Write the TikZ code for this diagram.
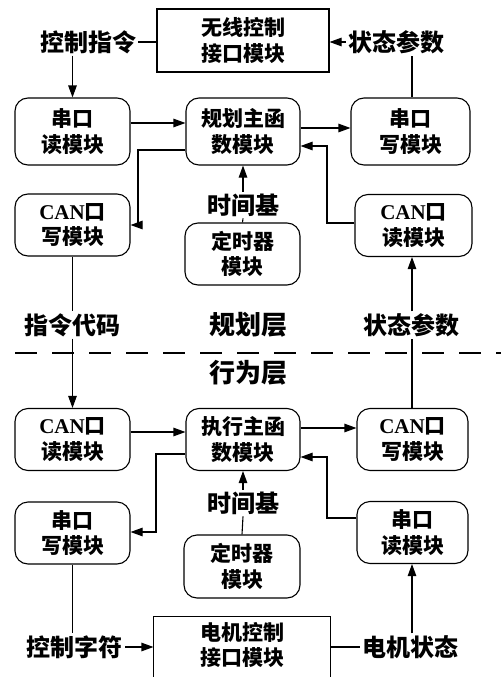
\documentclass[tikz,border=0pt]{standalone}
\usepackage{fontspec}
\setmainfont{Liberation Serif}
\newfontfamily\cjk{Noto Sans CJK SC}
\usetikzlibrary{arrows.meta}
\newcommand\boxfont{\cjk\bfseries\fontsize{21}{25.5}\selectfont}
\newcommand\lblfont{\cjk\bfseries\fontsize{24}{26}\selectfont}
\newcommand\layfont{\cjk\bfseries\fontsize{26}{28}\selectfont}
\newcommand\can{\textrm{\bfseries CAN}}
\begin{document}
\begin{tikzpicture}[x=1pt,y=-1pt, line width=1.1pt,
  >={Triangle[length=12pt,width=8.5pt]},
  rbox/.style={draw, rounded corners=13pt, minimum width=115pt, minimum height=62pt, inner sep=0pt, align=center, font=\boxfont},
  sbox/.style={draw, inner sep=0pt, align=center, font=\boxfont},
  lbl/.style={inner sep=1.5pt, font=\lblfont},
  lay/.style={inner sep=2pt, font=\layfont},
  sepline/.style={line width=2.2pt, dash pattern=on 22pt off 15pt}]
\useasboundingbox (0,0) rectangle (501,677);
\clip (0,0) rectangle (501,677);
\fill[white] (0,0) rectangle (501,677);
% top
\node[sbox, minimum width=172pt, minimum height=63pt] (wx) at (243,40.5) {无线控制\\接口模块};
\node[lbl] (ctl) at (88,42) {控制指令};
\node[lbl] (st1) at (396,42) {状态参数};
\node[rbox, minimum height=67pt] (a1) at (72.5,131.5) {串口\\读模块};
\node[rbox, minimum height=67pt, minimum width=114pt] (b1) at (243,131.5) {规划主函\\数模块};
\node[rbox, minimum height=67pt, minimum width=119pt] (c1) at (410.5,131.5) {串口\\写模块};
\node[rbox] (a2) at (72.5,225) {\can 口\\写模块};
\node[rbox, minimum width=117pt] (c2) at (413.5,225.5) {\can 口\\读模块};
\node[lbl] (tb1) at (243,205) {时间基};
\node[rbox] (d2) at (242.5,254) {定时器\\模块};
\node[lbl] (cmd) at (72.5,325) {指令代码};
\node[lay] (gh) at (248,325) {规划层};
\node[lbl] (st2) at (411,325) {状态参数};
\draw[sepline] (15,353) -- (501,353);
\node[lay] (xw) at (248,373) {行为层};
% bottom
\node[rbox] (a3) at (72.5,439.5) {\can 口\\读模块};
\node[rbox, minimum width=114pt] (b3) at (243,439.5) {执行主函\\数模块};
\node[rbox, minimum width=111pt] (c3) at (412.5,439.5) {\can 口\\写模块};
\node[lbl] (tb3) at (243,503) {时间基};
\node[rbox] (a4) at (72.5,533) {串口\\写模块};
\node[rbox, minimum width=111pt] (c4) at (412.5,532.5) {串口\\读模块};
\node[rbox, minimum width=116pt, minimum height=63pt] (d4) at (242,566.5) {定时器\\模块};
\node[inner sep=0pt, align=center, font=\boxfont, minimum width=176pt, minimum height=56pt] (mc) at (242,645) {电机控制\\接口模块};
\draw ([yshift=-20pt]mc.south west) -- (mc.north west) -- (mc.north east) -- ([yshift=-20pt]mc.south east);
\node[lbl] (kz) at (75,647) {控制字符};
\node[lbl] (dj) at (410,647) {电机状态};
% connectors top
\draw (ctl.east) -- (ctl.east -| wx.west);
\draw[->] (st1.west) -- (st1.west -| wx.east);
\draw[->] (a1.north |- ctl.south) -- (a1.north);
\draw (c1.north -| 412,0) -- (st1.south -| 412,0);
\draw[->] (a1.east |- 0,123) -- (b1.west |- 0,123);
\draw[->] (b1.east |- 0,128) -- (c1.west |- 0,128);
\draw[->] (b1.west |- 0,150) -- (138,150) -- (138,225) -- (a2.east |- 0,225);
\draw[->] (c2.west |- 0,223) -- (327,223) -- (327,146) -- (b1.east |- 0,146);
\draw[->] (tb1.north) -- (b1.south);
\draw (tb1.south) -- (d2.north);
\draw (a2.south) -- (cmd.north);
\draw[->] (st2.north -| 412,0) -- (c2.south -| 412,0);
\draw[->] (cmd.south) -- (a3.north);
\draw (c3.north -| 412,0) -- (st2.south -| 412,0);
% connectors bottom
\draw[->] (a3.east |- 0,432) -- (b3.west |- 0,432);
\draw[->] (b3.east |- 0,428) -- (c3.west |- 0,428);
\draw[->] (b3.west |- 0,454) -- (156,454) -- (156,532) -- (a4.east |- 0,532);
\draw[->] (c4.west |- 0,518) -- (327,518) -- (327,457) -- (b3.east |- 0,457);
\draw[->] (tb3.north) -- (b3.south);
\draw (tb3.south) -- (d4.north);
\draw (a4.south) -- (a4.south |- kz.north);
\draw[->] (kz.east) -- (kz.east -| mc.west);
\draw (mc.east |- dj.west) -- (dj.west);
\draw[->] (dj.north -| 412,0) -- (c4.south -| 412,0);
\end{tikzpicture}
\end{document}
